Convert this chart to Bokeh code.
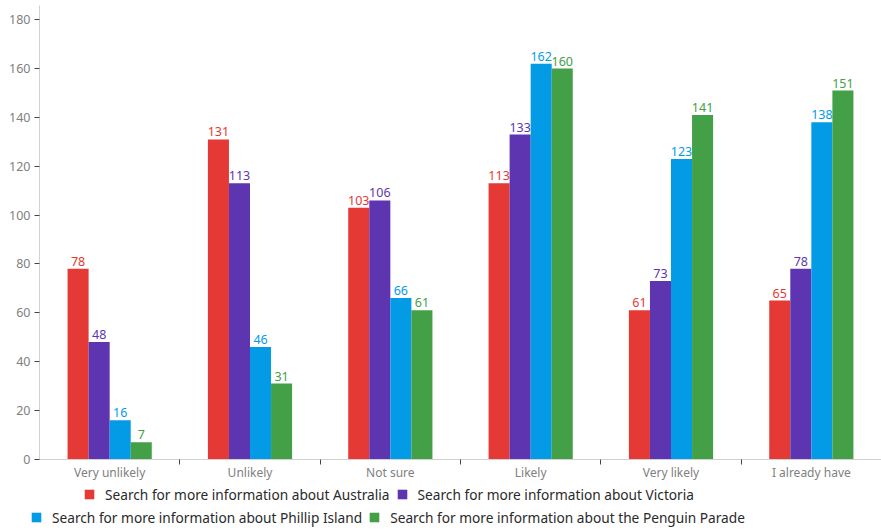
from bokeh.plotting import figure
from bokeh.models import (ColumnDataSource, Range1d, FixedTicker, Legend, LegendItem, LinearAxis)
from bokeh.transform import dodge
from bokeh.core.properties import value
from bokeh.embed import file_html
from bokeh.resources import INLINE

categories = ["Very unlikely", "Unlikely", "Not sure", "Likely", "Very likely", "I already have"]
series_names = [
    "Search for more information about Australia",
    "Search for more information about Victoria",
    "Search for more information about Phillip Island",
    "Search for more information about the Penguin Parade",
]
australia = [78, 131, 103, 113, 61, 65]
victoria = [48, 113, 106, 133, 73, 78]
phillip_island = [16, 46, 66, 162, 123, 138]
penguin_parade = [7, 31, 61, 160, 141, 151]
series_values = [australia, victoria, phillip_island, penguin_parade]
colors = ["#e53935", "#5e35b1", "#039be5", "#43a047"]
y_ticks = [0, 20, 40, 60, 80, 100, 120, 140, 160, 180]

FONT = "Noto Sans"
Y_TOP = 186

p = figure(width=881, height=531, output_backend="svg", toolbar_location=None,
           x_range=Range1d(-39 / 140.33, len(categories)), y_range=Range1d(-29.6, 187.9),
           x_axis_location=None, y_axis_location=None,
           min_border_left=0, min_border_right=0, min_border_top=0, min_border_bottom=0)
p.outline_line_color = None
p.grid.visible = False
p.background_fill_color = "white"
p.border_fill_color = "white"

centers = [i + 0.5 for i in range(len(categories))]
bar_w = 0.15
offsets = [-1.5 * bar_w, -0.5 * bar_w, 0.5 * bar_w, 1.5 * bar_w]

renderers = []
for name, vals, col, off in zip(series_names, series_values, colors, offsets):
    src = ColumnDataSource(dict(x=centers, top=vals, lbl=[str(v) for v in vals]))
    r = p.vbar(x=dodge("x", off), top="top", width=bar_w, source=src,
               fill_color=col, line_color=None)
    p.text(x=dodge("x", off), y="top", text="lbl", source=src,
           text_color=col, text_font=value(FONT), text_font_size="12.5px",
           text_align="center", text_baseline="bottom", y_offset=-3)
    renderers.append(r)

xa = LinearAxis(fixed_location=0, bounds=(0, len(categories)))
xa.ticker = FixedTicker(ticks=centers, minor_ticks=list(range(1, len(categories))))
xa.major_label_overrides = {c: cat for c, cat in zip(centers, categories)}
xa.major_tick_line_color = None
xa.major_tick_out = 0
xa.major_tick_in = 0
xa.minor_tick_line_color = "#444444"
xa.minor_tick_out = 5
xa.minor_tick_in = 0
xa.axis_line_color = "#d0d0d0"
xa.major_label_text_font = FONT
xa.major_label_text_font_size = "12px"
xa.major_label_text_color = "#808080"
xa.major_label_standoff = 0
p.add_layout(xa, "below")

ya = LinearAxis(fixed_location=0, bounds=(0, Y_TOP))
ya.ticker = FixedTicker(ticks=y_ticks)
ya.minor_tick_line_color = None
ya.major_tick_line_color = "#444444"
ya.major_tick_out = 5
ya.major_tick_in = 0
ya.axis_line_color = "#d0d0d0"
ya.major_label_text_font = FONT
ya.major_label_text_font_size = "12.5px"
ya.major_label_text_color = "#808080"
ya.major_label_standoff = 4
p.add_layout(ya, "left")

def make_legend(items, loc):
    lg = Legend(items=items, location=loc, orientation="horizontal",
                border_line_color=None, background_fill_alpha=0,
                padding=0, margin=0, spacing=6, label_standoff=10,
                glyph_width=12, glyph_height=12, label_height=20,
                label_text_font=FONT, label_text_font_size="13.7px",
                label_text_color="#2a2a2a")
    return lg

leg1 = make_legend([LegendItem(label=series_names[0], renderers=[renderers[0]]),
                    LegendItem(label=series_names[1], renderers=[renderers[1]])], (83, 27))
leg2 = make_legend([LegendItem(label=series_names[2], renderers=[renderers[2]]),
                    LegendItem(label=series_names[3], renderers=[renderers[3]])], (30, 4))
p.add_layout(leg1)
p.add_layout(leg2)

open("out.html", "w").write(file_html(p, INLINE))
